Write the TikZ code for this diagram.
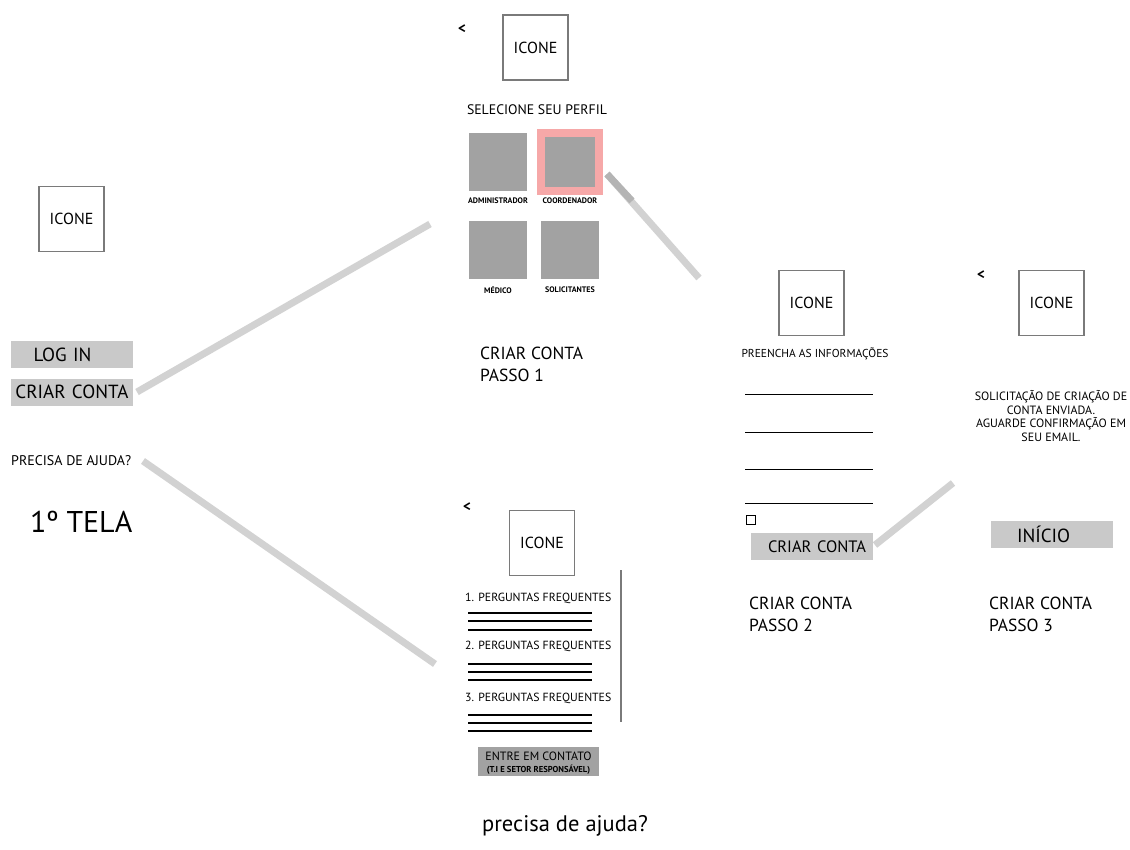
\documentclass[tikz,border=0pt]{standalone}
\usepackage{fontspec}
\setmainfont{PT Sans}
\definecolor{boxgray}{HTML}{7A7A7A}
\definecolor{btngray}{HTML}{C9C9C9}
\definecolor{sqgray}{HTML}{A2A2A2}
\definecolor{conn}{HTML}{D2D2D2}
\definecolor{conndark}{HTML}{B4B4B4}
\definecolor{pinkb}{HTML}{F6A8A8}
\begin{document}
\begin{tikzpicture}[x=1pt,y=-1pt,
  iconbox/.style={draw=boxgray, line width=1.2pt, minimum width=65pt, minimum height=65pt, inner sep=0pt, font=\fontsize{16}{18}\selectfont},
  btn/.style={fill=btngray, inner ysep=0pt, inner xsep=0pt, minimum height=27pt, text width=122pt, align=left, font=\fontsize{19}{21}\selectfont},
  sq/.style={fill=sqgray, minimum width=58pt, minimum height=58pt, inner sep=0pt},
  tiny/.style={font=\fontsize{8}{9}\selectfont\bfseries, inner sep=0pt},
  txt/.style={inner sep=0pt},
  connector/.style={draw=conn, line width=7pt},
  faqline/.style={draw=black, line width=1.4pt},
  field/.style={draw=black, line width=0.9pt},
  back/.style={inner sep=0pt, font=\fontsize{15}{16}\selectfont\bfseries},
  stepl/.style={inner sep=0pt, align=left, anchor=north west, font=\fontsize{17.5}{22}\selectfont}
]
\useasboundingbox (0,0) rectangle (1130,849);

% ---------- screen 1
\node[iconbox] (icon0) at (71.5,219) {ICONE};
\node[btn] (login) at (71.5,354.5) {\hspace*{23pt}LOG IN};
\node[btn] (criar0) at (71.5,392) {\hspace*{5pt}CRIAR CONTA};
\node[txt, anchor=west, font=\fontsize{14}{16}\selectfont] (ajuda0) at (11,461) {PRECISA DE AJUDA?};
\node[txt, anchor=west, font=\fontsize{30}{32}\selectfont] (tela) at (30,522) {1º TELA};

% ---------- passo 1
\node[back] (back1) at (462,29) {<};
\node[iconbox] (icon1) at (535.5,47.5) {ICONE};
\node[txt, font=\fontsize{13.8}{15}\selectfont] (sel) at (537,110) {SELECIONE SEU PERFIL};
\node[sq] (adm) at (498,162) {};
\node[sq, draw=pinkb, line width=8pt] (coord) at (570,162) {};
\node[sq] (med) at (498,250) {};
\node[sq] (sol) at (570,250) {};
\node[tiny] (admt) at (498,201) {ADMINISTRADOR};
\node[tiny] (coordt) at (570,201) {COORDENADOR};
\node[tiny] (medt) at (498,290) {MÉDICO};
\node[tiny] (solt) at (570,290) {SOLICITANTES};
\node[stepl] (p1) at (480,347) {CRIAR CONTA\\PASSO 1};

% ---------- ajuda
\node[back] (back4) at (467,507) {<};
\node[iconbox] (icon4) at (542,543) {ICONE};
\draw[draw=boxgray, line width=1.8pt] (621,570) -- (621,722);
\node[txt, anchor=west, font=\fontsize{11.8}{13}\selectfont] (q1) at (465,598) {1. PERGUNTAS FREQUENTES};
\node[txt, anchor=west, font=\fontsize{11.8}{13}\selectfont] (q2) at (465,646) {2. PERGUNTAS FREQUENTES};
\node[txt, anchor=west, font=\fontsize{11.8}{13}\selectfont] (q3) at (465,698) {3. PERGUNTAS FREQUENTES};
\foreach \y in {613,621,630, 664,672,680, 715,723,731} {
  \draw[faqline] (468,\y) -- (592,\y);
}
\node[fill=sqgray, minimum width=121pt, minimum height=29pt, inner sep=0pt] (contato) at (538.5,761.5) {};
\node[txt, font=\fontsize{12}{13}\selectfont] (contt) at (538.5,756.5) {ENTRE EM CONTATO};
\node[txt, font=\fontsize{8.6}{9}\selectfont\bfseries] (conts) at (538.5,769.5) {(T.I E SETOR RESPONSÁVEL)};
\node[txt, font=\fontsize{22.5}{26}\selectfont] (ajudat) at (565,826) {precisa de ajuda?};

% ---------- passo 2
\node[iconbox] (icon2) at (811.5,303) {ICONE};
\node[txt, font=\fontsize{11.5}{12}\selectfont] (pre) at (815,354) {PREENCHA AS INFORMAÇÕES};
\foreach \y in {394,432,469,503} {
  \draw[field] (745,\y) -- (873,\y);
}
\node[draw=black, line width=0.9pt, minimum size=9pt, inner sep=0pt] (chk) at (751,520) {};
\node[btn, font=\fontsize{16.5}{18}\selectfont] (criar2) at (812,546.5) {\hspace*{17pt}\mbox{CRIAR CONTA}};
\node[stepl] (p2) at (749,597) {CRIAR CONTA\\PASSO 2};

% ---------- passo 3
\node[back] (back3) at (981,275) {<};
\node[iconbox] (icon3) at (1051.5,303) {ICONE};
\node[txt, align=center, font=\fontsize{12}{13.5}\selectfont] (msg) at (1051,416) {SOLICITAÇÃO DE CRIAÇÃO DE\\CONTA ENVIADA.\\AGUARDE CONFIRMAÇÃO EM\\SEU EMAIL.};
\node[btn] (inicio) at (1052,534.5) {\hspace*{26pt}INÍCIO};
\node[stepl] (p3) at (989,597) {CRIAR CONTA\\PASSO 3};

% ---------- connectors
\coordinate (c1a) at (137,392);
\coordinate (c1b) at (430,224);
\coordinate (c2a) at (143,461);
\coordinate (c2b) at (435,664);
\coordinate (c3a) at (607,174);
\coordinate (c3m) at (632,201);
\coordinate (c3b) at (699,278);
\coordinate (c4a) at (875,545);
\coordinate (c4b) at (953,483);
\draw[connector] (c1a) -- (c1b);
\draw[connector] (c2a) -- (c2b);
\draw[connector] (c3a) -- (c3b);
\draw[connector, draw=conndark] (c3a) -- (c3m);
\draw[connector] (c4a) -- (c4b);
\end{tikzpicture}
\end{document}
